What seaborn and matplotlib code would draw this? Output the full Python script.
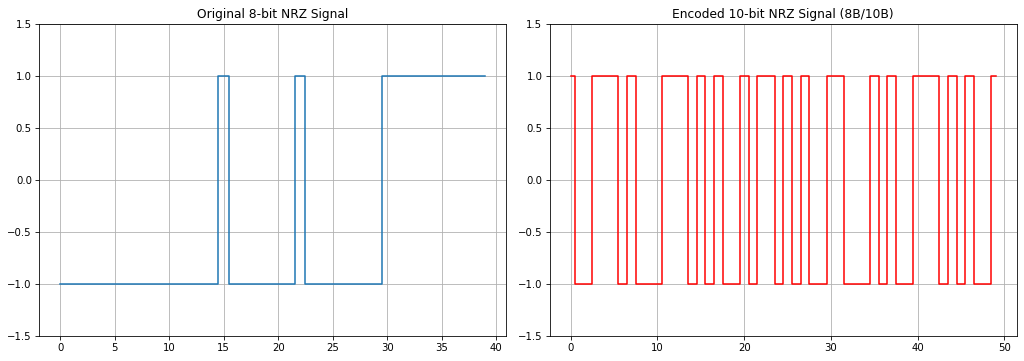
import numpy as np
import matplotlib
matplotlib.use('Agg')
import matplotlib.pyplot as plt
import seaborn as sns

# 原始 8-bit 数据 (5 字节 = 40 位) 和 8B/10B 编码后的 50 位
original_bits = [0, 0, 0, 0, 0, 0, 0, 0, 0, 0,
                 0, 0, 0, 0, 0, 1, 0, 0, 0, 0,
                 0, 0, 1, 0, 0, 0, 0, 0, 0, 0,
                 1, 1, 1, 1, 1, 1, 1, 1, 1, 1]
encoded_bits = [1, 0, 0, 1, 1, 1, 0, 1, 0, 0,
                0, 1, 1, 1, 0, 1, 0, 1, 0, 0,
                1, 0, 1, 1, 0, 1, 0, 1, 0, 0,
                1, 1, 0, 0, 0, 1, 0, 1, 0, 0,
                1, 1, 1, 0, 1, 0, 1, 0, 0, 1]


def nrz(bits):
    return np.array(bits) * 2 - 1


DPI = 1024 / 14
fig, axes = plt.subplots(1, 2, figsize=(14, 361 / DPI), dpi=DPI)

sns.lineplot(x=np.arange(len(original_bits)), y=nrz(original_bits),
             ax=axes[0], drawstyle='steps-mid', color='C0')
axes[0].set_title('Original 8-bit NRZ Signal', fontsize=12)

sns.lineplot(x=np.arange(len(encoded_bits)), y=nrz(encoded_bits),
             ax=axes[1], drawstyle='steps-mid', color='r')
axes[1].set_title('Encoded 10-bit NRZ Signal (8B/10B)', fontsize=12)

for ax in axes:
    ax.set_ylim(-1.5, 1.5)
    ax.grid(True)

plt.subplots_adjust(left=39 / 1024, right=1017 / 1024,
                    top=1 - 24 / 361, bottom=1 - 336 / 361, wspace=0.092)
plt.savefig('out.png', dpi=DPI)
